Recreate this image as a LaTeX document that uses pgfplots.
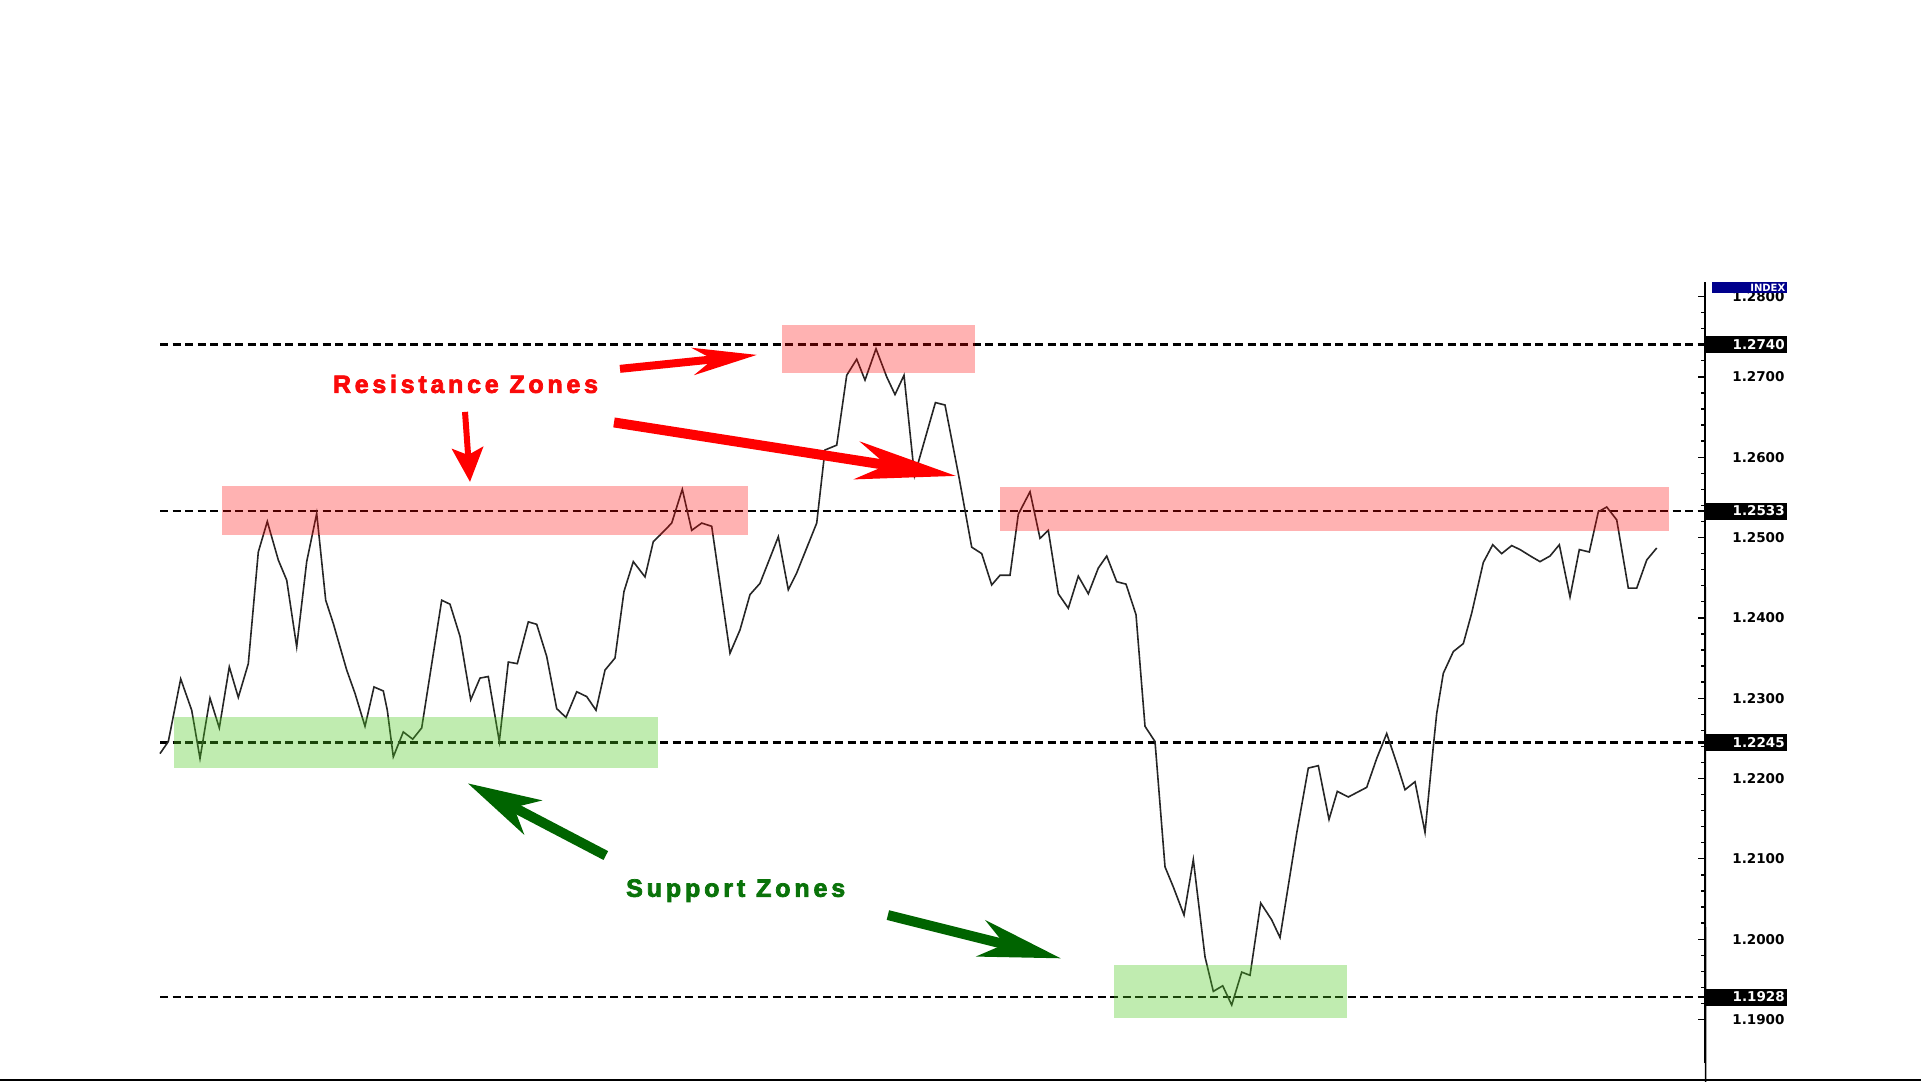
\documentclass[border=0pt]{standalone}
\usepackage{pgfplots}
\pgfplotsset{compat=1.18}
\usepackage{fontspec}
\setmainfont{Liberation Sans}
\newfontfamily\tickfont{DejaVu Sans}
\newfontfamily\resfont[LetterSpace=15, BoldFeatures={FakeBold=3}]{Liberation Sans}
\newfontfamily\supfont[LetterSpace=15.5, BoldFeatures={FakeBold=3}]{Liberation Sans}
\usetikzlibrary{arrows.meta}

\definecolor{zonered}{RGB}{255,0,0}
\definecolor{zonegreen}{RGB}{75,200,29}
\definecolor{txtred}{RGB}{250,10,10}
\definecolor{txtgreen}{RGB}{10,115,10}
\definecolor{arrgreen}{RGB}{0,100,0}
\definecolor{indexblue}{RGB}{0,0,140}

% price series: x = bar position, y = quote
\pgfplotstableread{
x y
0.00 1.2231
0.83 1.2246
2.07 1.2324
3.17 1.2285
4.00 1.2225
5.00 1.2300
5.93 1.2263
6.93 1.2339
7.83 1.2301
8.83 1.2343
9.83 1.2482
10.73 1.2520
11.83 1.2472
12.67 1.2447
13.67 1.2364
14.67 1.2470
15.67 1.2530
16.57 1.2422
17.33 1.2393
18.67 1.2335
19.50 1.2306
20.50 1.2265
21.40 1.2314
22.33 1.2309
22.73 1.2285
23.33 1.2227
24.33 1.2258
25.27 1.2249
26.17 1.2263
28.17 1.2422
29.00 1.2417
30.00 1.2377
31.07 1.2298
32.00 1.2325
32.83 1.2327
33.93 1.2246
34.83 1.2345
35.73 1.2343
36.83 1.2395
37.67 1.2392
38.67 1.2352
39.67 1.2287
40.60 1.2276
41.67 1.2308
42.67 1.2302
43.60 1.2285
44.50 1.2335
45.50 1.2350
46.40 1.2433
47.33 1.2470
48.50 1.2451
49.33 1.2495
50.00 1.2503
51.17 1.2518
52.23 1.2560
53.17 1.2509
54.17 1.2518
55.17 1.2514
57.00 1.2356
58.00 1.2385
59.00 1.2429
60.00 1.2443
61.83 1.2501
62.83 1.2435
63.67 1.2456
65.67 1.2518
66.50 1.2609
67.67 1.2615
68.67 1.2702
69.67 1.2722
70.50 1.2696
71.60 1.2735
72.67 1.2700
73.50 1.2678
74.40 1.2702
75.45 1.2577
77.54 1.2668
78.50 1.2665
79.90 1.2575
81.17 1.2488
82.17 1.2480
83.17 1.2441
84.00 1.2453
85.00 1.2453
85.83 1.2529
87.00 1.2557
88.00 1.2499
88.83 1.2509
89.83 1.2430
90.83 1.2412
91.83 1.2452
92.83 1.2430
93.83 1.2462
94.67 1.2477
95.67 1.2445
96.60 1.2442
97.60 1.2404
98.50 1.2265
99.50 1.2246
100.50 1.2090
101.33 1.2065
102.40 1.2030
103.33 1.2099
104.50 1.1978
105.33 1.1935
106.27 1.1942
107.17 1.1918
108.17 1.1959
109.00 1.1955
110.07 1.2045
111.17 1.2024
112.00 1.2002
113.67 1.2132
114.83 1.2213
115.83 1.2216
116.90 1.2149
117.73 1.2184
118.83 1.2177
120.67 1.2189
121.67 1.2225
122.67 1.2256
123.67 1.2219
124.50 1.2186
125.50 1.2196
126.50 1.2133
127.33 1.2240
127.67 1.2281
128.33 1.2331
129.33 1.2358
130.33 1.2368
131.17 1.2406
132.33 1.2469
133.27 1.2491
134.17 1.2480
135.17 1.2490
136.00 1.2485
137.17 1.2476
138.00 1.2470
139.00 1.2477
139.93 1.2491
141.00 1.2426
141.93 1.2485
142.93 1.2482
143.83 1.2532
144.67 1.2538
145.67 1.2522
146.83 1.2437
147.67 1.2437
148.67 1.2472
149.67 1.2487
}\pricedata

\tikzset{
  pricetag/.style={anchor=west, fill=black, text=white, minimum height=17pt,
    text width=77pt, align=right, inner xsep=2.5pt, inner ysep=0pt,
    font=\tickfont\bfseries\fontsize{13.5}{14}\selectfont},
  level/.style={black, line width=2.9pt, dash pattern=on 8pt off 4.5pt},
}

\begin{document}
\begin{tikzpicture}
\useasboundingbox (0,0) rectangle (1921pt,1081pt);
\begin{axis}[
    at={(160pt,18pt)}, anchor=south west,
    scale only axis, width=1545pt, height=781pt,
    xmin=0, xmax=154.5, ymin=1.18457, ymax=1.2818,
    hide x axis,
    axis y line*=right,
    xtick=\empty,
    ytick={1.19,1.20,1.21,1.22,1.23,1.24,1.25,1.26,1.27,1.28},
    minor y tick num=4,
    tick align=inside,
    major tick length=7pt, minor tick length=4pt,
    every tick/.style={black, line width=1.3pt},
    y axis line style={draw=none},
    /pgf/number format/.cd, fixed, fixed zerofill, precision=4, assume math mode=true,
    /pgfplots/.cd,
    yticklabel style={font=\tickfont\bfseries\fontsize{13.5}{14}\selectfont,
        anchor=east, xshift=83pt, text=black},
    clip=false,
]
% key levels
\addplot[level] coordinates {(0,1.2740) (154.5,1.2740)};
\addplot[level] coordinates {(0,1.2533) (154.5,1.2533)};
\addplot[level] coordinates {(0,1.2245) (154.5,1.2245)};
\addplot[level] coordinates {(0,1.1928) (154.5,1.1928)};

\addplot[black!85, line width=1.6pt] table[x=x, y=y] {\pricedata};

% zones
\fill[zonered, opacity=0.3] (axis cs:6.2,1.25032) rectangle (axis cs:58.8,1.25643);
\fill[zonered, opacity=0.3] (axis cs:62.2,1.2705) rectangle (axis cs:81.5,1.27648);
\fill[zonered, opacity=0.3] (axis cs:84.0,1.25082) rectangle (axis cs:150.9,1.2563);
\fill[zonegreen, opacity=0.35] (axis cs:1.43,1.22127) rectangle (axis cs:49.83,1.22762);
\fill[zonegreen, opacity=0.35] (axis cs:95.35,1.19018) rectangle (axis cs:118.7,1.19678);

% arrows
\draw[red, line width=8pt, -{Stealth[length=64pt, width=27pt, inset=20pt]}]
    (axis cs:46.0,1.2710) -- (axis cs:59.7,1.27274);
\draw[red, line width=10pt, -{Stealth[length=100pt, width=38pt, inset=30pt]}]
    (axis cs:45.4,1.26433) -- (axis cs:79.6,1.25767);
\draw[red, line width=6pt, -{Stealth[length=34pt, width=31pt, inset=7pt]}]
    (axis cs:30.5,1.26564) -- (axis cs:31.0,1.25692);
\draw[arrgreen, line width=10pt, -{Stealth[length=73pt, width=38pt, inset=21pt]}]
    (axis cs:44.58,1.21041) -- (axis cs:30.78,1.21940);
\draw[arrgreen, line width=10pt, -{Stealth[length=82pt, width=37pt, inset=24pt]}]
    (axis cs:72.79,1.20300) -- (axis cs:90.09,1.19761);

% labels
\node[anchor=base, text=txtred, font=\resfont\bfseries\fontsize{25}{27}\selectfont]
    at (axis cs:30.55,1.26801) {Resistance Zones};
\node[anchor=base, text=txtgreen, font=\supfont\bfseries\fontsize{25}{27}\selectfont]
    at (axis cs:57.57,1.20528) {Support Zones};

% price tags on the scale
\node[pricetag] at (axis cs:154.5,1.2740) {1.2740};
\node[pricetag] at (axis cs:154.5,1.2533) {1.2533};
\node[pricetag] at (axis cs:154.5,1.2245) {1.2245};
\node[pricetag] at (axis cs:154.5,1.1928) {1.1928};
\node[anchor=north west, fill=indexblue, text=white, minimum height=10.5pt, text width=71pt,
      align=right, inner xsep=2pt, inner ysep=0pt, xshift=7pt,
      font=\tickfont\bfseries\fontsize{10}{10}\selectfont]
    at (rel axis cs:1,1) {INDEX};
\draw[black, line width=1.5pt] (rel axis cs:1,1) -- ++(7pt,0);
\end{axis}
% price-scale line and bottom frame line
\draw[black, line width=2pt] (1705pt,18pt) -- (1705pt,799pt);
\draw[black, line width=2pt] (0,1.5pt) -- (1921pt,1.5pt);
\end{tikzpicture}
\end{document}
